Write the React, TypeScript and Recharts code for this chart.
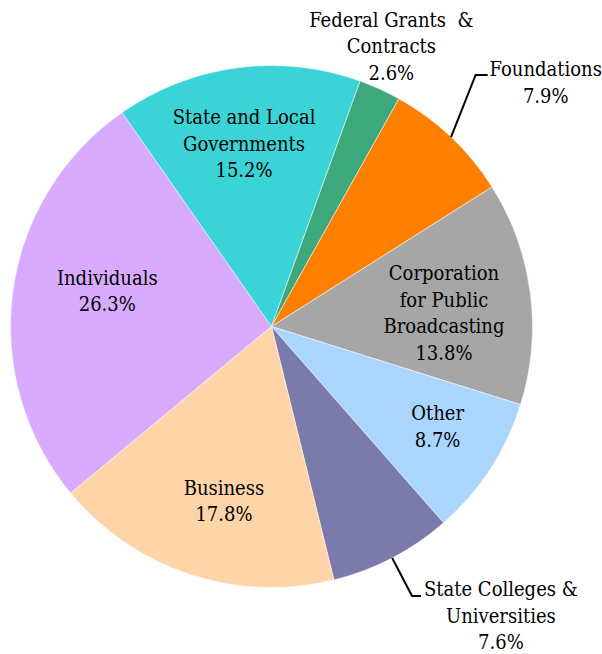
// 재원별 비중 파이 차트
import React from 'react'
import { PieChart, Pie, Cell } from 'recharts'

const categories = [
  'Individuals',
  'State and Local Governments',
  'Federal Grants  & Contracts',
  'Foundations',
  'Corporation for Public Broadcasting',
  'Other',
  'State Colleges & Universities',
  'Business',
]
const shares = [26.3, 15.2, 2.6, 7.9, 13.8, 8.7, 7.6, 17.8]
const labelLines = [
  ['Individuals'],
  ['State and Local', 'Governments'],
  ['Federal Grants  &', 'Contracts'],
  ['Foundations'],
  ['Corporation', 'for Public', 'Broadcasting'],
  ['Other'],
  ['State Colleges &', 'Universities'],
  ['Business'],
]
const colors = ['#D8ABFF', '#3BD4D6', '#3DA87C', '#FF7F00', '#A6A6A6', '#AAD5FF', '#7A7BAA', '#FFD4A8']

// 라벨 위치 (중심각 기준 반지름, 각도 보정)
const labelR = [168, 185, 305, 367, 173, 194, 369, 181]
const labelDA = [-4.5, 1, 1.4, -4.9, -3, 2, 10.9, 3]
// 지시선: [꺾이는 지점 반지름, 각도 보정, 가로 길이]
const leaders: { [i: number]: [number, number, number] } = {
  3: [324, 4.4, 12],
  6: [304, 0, 9],
}

const data = categories.map((name, i) => ({ name, value: shares[i] }))
const RAD = Math.PI / 180
const serif = "'DejaVu Serif Condensed', 'DejaVu Serif'"

const renderLabel = (props: any) => {
  const { cx, cy, midAngle, outerRadius, index } = props
  const a = midAngle + labelDA[index]
  const r = labelR[index]
  const x = cx + r * Math.cos(a * RAD)
  const y = cy - r * Math.sin(a * RAD)
  const lines = [...labelLines[index], shares[index].toFixed(1) + '%']
  const lh = 26.5
  const y0 = y - ((lines.length - 1) * lh) / 2
  let leader = null
  if (leaders[index]) {
    const [er, eda, len] = leaders[index]
    const sx = cx + outerRadius * Math.cos(midAngle * RAD)
    const sy = cy - outerRadius * Math.sin(midAngle * RAD)
    const ex = cx + er * Math.cos((midAngle + eda) * RAD)
    const ey = cy - er * Math.sin((midAngle + eda) * RAD)
    leader = (
      <polyline
        points={`${sx},${sy} ${ex},${ey} ${ex + len},${ey}`}
        fill="none"
        stroke="#000"
        strokeWidth={2}
      />
    )
  }
  return (
    <g key={'lbl' + index}>
      {leader}
      <text
        x={x}
        y={y0}
        textAnchor="middle"
        fill="#000"
        stroke="none"
        style={{ whiteSpace: 'pre', fontFamily: serif, fontSize: 20, fontStretch: 'condensed' }}
      >
        {lines.map((t, k) => (
          <tspan key={k} x={x} y={y0 + k * lh} dy="0.35em">
            {t}
          </tspan>
        ))}
      </text>
    </g>
  )
}

const App: React.FC = () => {
  return (
    <div style={{ position: 'absolute', left: 0, top: 0, background: '#fff' }}>
      <PieChart width={602} height={654} margin={{ top: 0, right: 0, bottom: 0, left: 0 }}>
        <Pie
          data={data}
          dataKey="value"
          nameKey="name"
          cx={271.5}
          cy={326.5}
          outerRadius={261}
          startAngle={219.7}
          endAngle={-140.3}
          stroke="#fff"
          strokeWidth={0.5}
          label={renderLabel}
          labelLine={false}
          isAnimationActive={false}
        >
          {data.map((d, i) => (
            <Cell key={d.name} fill={colors[i]} />
          ))}
        </Pie>
      </PieChart>
    </div>
  )
}

export default App
